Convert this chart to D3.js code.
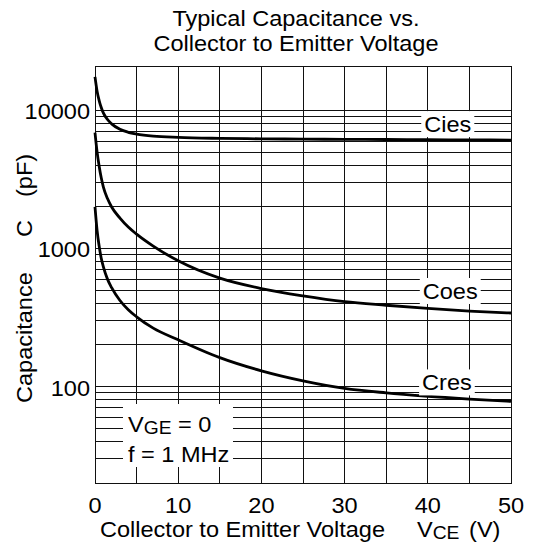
<!DOCTYPE html>
<html>
<head>
<meta charset="utf-8">
<script src="https://cdn.jsdelivr.net/npm/d3@7"></script>
<style>
  body { margin: 0; background: #fff; }
  text { font-family: "Liberation Sans", Arial, sans-serif; fill: #000; }
</style>
</head>
<body>
<script>
// values (V_CE in volts, C in pF)
var vce  = [0, 0.25, 0.5, 0.75, 1, 1.5, 2, 3, 4, 5, 7, 10, 15, 20, 25, 30, 35, 40, 45, 50];
var cies = [17500, 13800, 11800, 10500, 9600, 8600, 8000, 7300, 6950, 6750, 6520, 6380, 6280, 6230, 6200, 6180, 6160, 6140, 6120, 6100];
var coes = [6900, 5000, 3950, 3250, 2800, 2300, 2000, 1660, 1430, 1270, 1040, 815, 610, 513, 454, 412, 388, 368, 352, 341];
var cres = [2000, 1350, 1040, 850, 740, 600, 520, 420, 360, 320, 265, 218, 162, 130, 110, 97, 90, 85, 81, 78];

var xTicks = [0, 10, 20, 30, 40, 50];
var yTicks = [100, 1000, 10000];
var seriesNames = ["Cies", "Coes", "Cres"];

var width = 539, height = 548;
var margin = {top: 66, right: 28, bottom: 65, left: 95};
var sx = 1.07; // text in the scan is a little wide

var svg = d3.select("body").append("svg")
    .attr("width", width)
    .attr("height", height);

var x = d3.scaleLinear().domain([0, 50]).range([margin.left, width - margin.right]);
var y = d3.scaleLog().domain([20, 21000]).range([height - margin.bottom, margin.top]);

function label(g, str, px, py, anchor, size) {
  return g.append("text")
      .attr("transform", "translate(" + px + "," + py + ") scale(" + sx + ",1)")
      .attr("text-anchor", anchor || "start")
      .style("font-size", (size || 22) + "px")
      .text(str);
}

// grid
var minor = [];
[10, 100, 1000].forEach(function(d) {
  for (var m = 1; m <= 9; m++) if (d * m >= 20) minor.push(d * m);
});
minor.push(10000);

var grid = svg.append("g").attr("stroke", "#111").attr("stroke-width", 1).attr("shape-rendering", "crispEdges");
grid.selectAll(".h").data(minor).enter().append("line")
    .attr("x1", x(0)).attr("x2", x(50))
    .attr("y1", function(d) { return y(d); }).attr("y2", function(d) { return y(d); });
grid.selectAll(".v").data(d3.range(0, 51, 5)).enter().append("line")
    .attr("y1", y.range()[0]).attr("y2", y.range()[1])
    .attr("x1", function(d) { return x(d); }).attr("x2", function(d) { return x(d); });
grid.append("rect")
    .attr("x", x(0)).attr("y", y.range()[1])
    .attr("width", x(50) - x(0)).attr("height", y.range()[0] - y.range()[1])
    .attr("fill", "none");

// curves
var line = d3.line().curve(d3.curveMonotoneX)
    .x(function(d) { return x(d[0]); })
    .y(function(d) { return y(d[1]); });

[cies, coes, cres].forEach(function(s) {
  svg.append("path")
      .datum(vce.map(function(v, i) { return [v, s[i]]; }))
      .attr("fill", "none")
      .attr("stroke", "#000")
      .attr("stroke-width", 2.8)
      .attr("d", line);
});

// curve labels on white boxes
var ann = svg.append("g");
var labelPos = [[42.4, 6100], [42.7, 341], [42.3, 78]];
var labelDy = [-8, -14, -11];
seriesNames.forEach(function(name, i) {
  var g = ann.append("g");
  var t = label(g, name, x(labelPos[i][0]), y(labelPos[i][1]) + labelDy[i], "middle");
  var b = t.node().getBBox();
  var w = b.width * sx + 6;
  g.insert("rect", "text")
      .attr("x", x(labelPos[i][0]) - w / 2).attr("y", y(labelPos[i][1]) + labelDy[i] - 21)
      .attr("width", w).attr("height", 26)
      .attr("fill", "#fff");
});

// conditions box
var cond = svg.append("g");
cond.append("rect").attr("x", 123).attr("y", 404).attr("width", 110).attr("height", 63).attr("fill", "#fff");
var t1 = cond.append("text")
    .attr("transform", "translate(128,432) scale(" + sx + ",1)")
    .style("font-size", "22px");
t1.append("tspan").text("V");
t1.append("tspan").attr("dy", 2).style("font-size", "18px").text("GE");
t1.append("tspan").attr("dy", -2).text(" = 0");
label(cond, "f = 1 MHz", 128, 462, "start");

// axes labels
xTicks.forEach(function(d) {
  label(svg, d, x(d), 513, "middle");
});
yTicks.forEach(function(d) {
  label(svg, d, 90, y(d) + 9, "end");
});

// titles
label(svg, "Typical Capacitance vs.", 296, 26, "middle");
label(svg, "Collector to Emitter Voltage", 296, 51, "middle");

label(svg, "Collector to Emitter Voltage", 100, 537, "start");
var vl = svg.append("text")
    .attr("transform", "translate(417,537) scale(" + sx + ",1)")
    .style("font-size", "22px");
vl.append("tspan").text("V");
vl.append("tspan").attr("dy", 2).style("font-size", "18px").text("CE");
vl.append("tspan").attr("dy", -2).attr("dx", 9).text("(V)");

function ylab(str, py) {
  svg.append("text")
      .attr("transform", "translate(32," + py + ") rotate(-90) scale(" + sx + ",1)")
      .style("font-size", "22px")
      .text(str);
}
ylab("Capacitance", 403);
ylab("C", 237);
ylab("(pF)", 197);
</script>
</body>
</html>
